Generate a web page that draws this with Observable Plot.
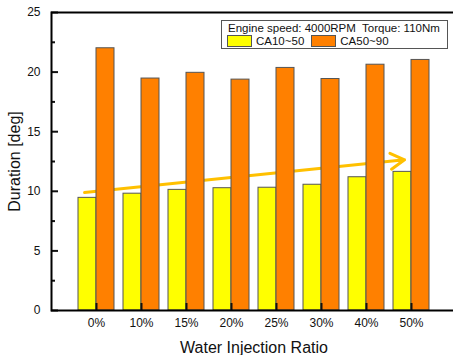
<!DOCTYPE html>
<html>
<head>
<meta charset="utf-8">
<script src="https://cdn.jsdelivr.net/npm/d3@7"></script>
<script src="https://cdn.jsdelivr.net/npm/@observablehq/plot@0.6"></script>
<style>
  html, body { margin: 0; padding: 0; background: #fff; }
  #wrap { position: relative; width: 453px; height: 355px; overflow: hidden; font-family: "Liberation Sans", Arial, sans-serif; }
  #legend { position: absolute; left: 221px; top: 20px; width: 225px; height: 27px; border: 1px solid #555; background: #fff; font-size: 11.5px; color: #111; }
  #legend .l1 { position: absolute; left: 6px; top: 1px; white-space: pre; }
  #legend .l2 { position: absolute; left: 5px; top: 14px; white-space: nowrap; display: flex; align-items: center; }
  #legend .sw { display: inline-block; width: 25px; height: 12px; border: 1px solid #555; margin-right: 4px; box-sizing: border-box; }
  #legend .lab { margin-right: 7px; }
</style>
</head>
<body>
<div id="wrap"></div>
<script>
const ratios = ["0%", "10%", "15%", "20%", "25%", "30%", "40%", "50%"];
const ca1050 = [9.45, 9.8, 10.12, 10.26, 10.3, 10.55, 11.18, 11.63];
const ca5090 = [22.0, 19.46, 19.94, 19.37, 20.35, 19.42, 20.62, 21.02];
const seriesNames = ["CA10~50", "CA50~90"];
const seriesColors = ["#FFFF00", "#FF8000"];
const legendTitle = "Engine speed: 4000RPM  Torque: 110Nm";
const xTitle = "Water Injection Ratio";
const yTitle = "Duration [deg]";
const yMajorTicks = [0, 5, 10, 15, 20, 25];
const yMinorTicks = [2.5, 7.5, 12.5, 17.5, 22.5];
const trendFrom = ["0%", 10.0];
const trendTo = ["50%", 12.7];

const rows = ratios.map((r, i) => ({ratio: r, a: ca1050[i], b: ca5090[i]}));
const trend = [{x1: trendFrom[0], y1: trendFrom[1], x2: trendTo[0], y2: trendTo[1]}];

const chart = Plot.plot({
  width: 453,
  height: 355,
  marginLeft: 51,
  marginRight: -3,
  marginTop: 12,
  marginBottom: 45,
  style: {fontFamily: "'Liberation Sans', Arial, sans-serif", fontSize: "12px", color: "#111", background: "white"},
  x: {domain: ratios, paddingInner: 0.2, paddingOuter: 0.6, label: null},
  y: {domain: [0, 25], label: null},
  marks: [
    Plot.barY(rows, {x: "ratio", y: "a", fill: seriesColors[0], stroke: "#555", strokeWidth: 1, insetRight: 18}),
    Plot.arrow(trend, {x1: "x1", y1: "y1", x2: "x2", y2: "y2", stroke: "#FFC000", strokeWidth: 3, headLength: 8, insetStart: -12, insetEnd: 7}),
    Plot.barY(rows, {x: "ratio", y: "b", fill: seriesColors[1], stroke: "#555", strokeWidth: 1, insetLeft: 18}),
    Plot.axisY(yMajorTicks, {tickSize: 0, tickPadding: 11, fontSize: 12, label: null}),
    Plot.axisY(yMajorTicks, {tickSize: -7, strokeWidth: 2, tickFormat: () => "", label: null}),
    Plot.axisY(yMinorTicks, {tickSize: -4, strokeWidth: 2, tickFormat: () => "", label: null}),
    Plot.axisX({tickSize: 0, tickPadding: 8, fontSize: 12, label: null}),
    Plot.axisX({tickSize: -7, strokeWidth: 2, tickFormat: () => "", label: null}),
    Plot.frame({stroke: "black", strokeWidth: 2}),
    Plot.text([xTitle], {text: d => d, frameAnchor: "bottom", textAnchor: "middle", dy: 42, fontSize: 16}),
    Plot.text([yTitle], {text: d => d, frameAnchor: "left", textAnchor: "middle", rotate: -90, dx: -37, fontSize: 16})
  ]
});

const wrap = document.getElementById("wrap");
wrap.appendChild(chart);

const legend = document.createElement("div");
legend.id = "legend";
const l1 = document.createElement("div");
l1.className = "l1";
l1.textContent = legendTitle;
legend.appendChild(l1);
const l2 = document.createElement("div");
l2.className = "l2";
seriesNames.forEach((name, i) => {
  const sw = document.createElement("span");
  sw.className = "sw";
  sw.style.background = seriesColors[i];
  const lab = document.createElement("span");
  lab.className = "lab";
  lab.textContent = name;
  l2.appendChild(sw);
  l2.appendChild(lab);
});
legend.appendChild(l2);
wrap.appendChild(legend);
</script>
</body>
</html>
